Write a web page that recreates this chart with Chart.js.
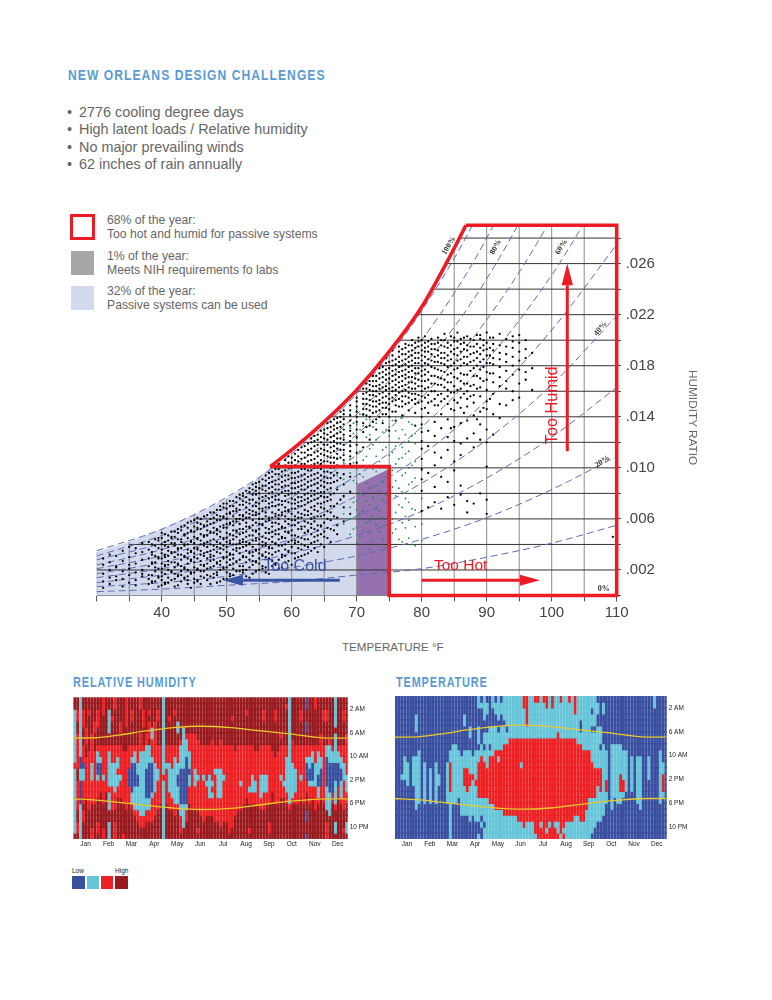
<!DOCTYPE html>
<html lang="en">
<head>
<meta charset="UTF-8" />
<title>New Orleans Design Challenges</title>
<script src="https://cdn.jsdelivr.net/npm/chart.js@4/dist/chart.umd.min.js"></script>
<style>
  html, body { margin: 0; background: #fff; }
  body { position: relative; width: 772px; height: 1000px; overflow: hidden; font-family: "Liberation Sans", sans-serif; color: #666; }
  .t { position: absolute; white-space: nowrap; }
  .head { font-weight: bold; color: #5b9bd5; transform: scaleX(.78); transform-origin: left center; }
  .box { position: absolute; }
  .wrap { position: absolute; }
</style>
</head>
<body>
<div class="t head" style="left:68px;top:66px;font-size:15.5px;letter-spacing:1.35px">NEW ORLEANS DESIGN CHALLENGES</div>
<div class="t" style="left:67px;top:104px;font-size:14.4px">•</div>
<div class="t" style="left:67px;top:121px;font-size:14.4px">•</div>
<div class="t" style="left:67px;top:139px;font-size:14.4px">•</div>
<div class="t" style="left:67px;top:156px;font-size:14.4px">•</div>
<div class="t" style="left:79px;top:104px;font-size:14.4px">2776 cooling degree days</div>
<div class="t" style="left:79px;top:121px;font-size:14.4px">High latent loads / Relative humidity</div>
<div class="t" style="left:79px;top:139px;font-size:14.4px">No major prevailing winds</div>
<div class="t" style="left:79px;top:156px;font-size:14.4px">62 inches of rain annually</div>

<div class="box" style="left:70px;top:214px;width:19px;height:20px;border:3.5px solid #ed1c24"></div>
<div class="box" style="left:71px;top:251px;width:23px;height:24px;background:#a7a7a7"></div>
<div class="box" style="left:71px;top:286px;width:23px;height:24px;background:#d3d9ec"></div>
<div class="t" style="left:107px;top:214px;font-size:12.2px;line-height:13.5px">68% of the year:<br>Too hot and humid for passive systems</div>
<div class="t" style="left:107px;top:250px;font-size:12.2px;line-height:13.5px">1% of the year:<br>Meets NIH requirements fo labs</div>
<div class="t" style="left:107px;top:285px;font-size:12.2px;line-height:13.5px">32% of the year:<br>Passive systems can be used</div>

<div class="wrap" style="left:90px;top:215px;width:637px;height:421px"><canvas id="psychro"></canvas></div>
<div class="t" style="left:342px;top:640px;font-size:11.6px">TEMPERATURE °F</div>
<div class="t" style="left:686px;top:370px;font-size:11.8px;writing-mode:vertical-rl">HUMIDITY RATIO</div>

<div class="t head" style="left:73px;top:674px;font-size:14px;letter-spacing:1.1px">RELATIVE HUMIDITY</div>
<div class="t head" style="left:396px;top:674px;font-size:14px;letter-spacing:1.1px">TEMPERATURE</div>
<div class="wrap" style="left:70px;top:694px;width:310px;height:162px"><canvas id="rhMap"></canvas></div>
<div class="wrap" style="left:392px;top:694px;width:307px;height:162px"><canvas id="tempMap"></canvas></div>

<div class="t" style="left:72px;top:867px;font-size:6.5px;color:#222">Low</div>
<div class="t" style="left:115px;top:867px;font-size:6.5px;color:#222">High</div>
<div class="box" style="left:72px;top:876px;width:13px;height:13px;background:#3a4f9f"></div>
<div class="box" style="left:87px;top:876px;width:12px;height:13px;background:#66c5d8"></div>
<div class="box" style="left:101px;top:876px;width:12px;height:13px;background:#ed2024"></div>
<div class="box" style="left:115px;top:876px;width:13px;height:13px;background:#9a1b1f"></div>

<script>
// psychrometric axes
const tempTicks = [30,35,40,45,50,55,60,65,70,75,80,85,90,95,100,105,110];
const tempLabels = [40,50,60,70,80,90,100,110];
const humidTicks = [0,.002,.004,.006,.008,.010,.012,.014,.016,.018,.020,.022,.024,.026,.028];
const humidLabels = [".002",".006",".010",".014",".018",".022",".026"];

// saturation curve
const satTemps = [30,35,40,45,50,55,56.7,60,65,70,75,80,85,86.8];
const satHumid = [.0034,.0042,.0052,.0063,.0076,.0092,.0101,.0114,.0136,.0161,.0191,.0226,.0272,.029];
// where each grid line meets the curve
const gridTopHumid = [.0034,.0042,.0052,.0063,.0076,.0092,.0114,.0136,.0161,.0191,.0226,.0272,.029,.029,.029,.029,.029];
const gridLeftTemp = [30,30,35,45,53,56.7,61,65.9,69.9,73.3,76.2,79,81.3,83.7,85.9];

// relative humidity curves
const rhTemps = [30,40,50,60,70,80,90,100,110];
const rh10 = [.0003,.0005,.0008,.0011,.0016,.0021,.0030,.0041,.0055];
const rh20 = [.0007,.0010,.0015,.0022,.0031,.0044,.0061,.0083,.0109];
const rh30 = [.0010,.0016,.0023,.0033,.0047,.0066,.0092,.0124,.0163];
const rh40 = [.0014,.0021,.0031,.0044,.0062,.0088,.0122,.0165,.0219];
const rh50 = [.0017,.0026,.0038,.0055,.0078,.0110,.0153,.0208,.0275];
const rh60 = [.0021,.0031,.0046,.0066,.0094,.0132,.0184,.0251,.0335];
const rh70 = [.0024,.0036,.0054,.0077,.0110,.0155,.0216,.0296,.0400];
const rh80 = [.0028,.0041,.0061,.0088,.0126,.0178,.0248,.0343,.0470];
const rh90 = [.0031,.0047,.0069,.0100,.0142,.0200,.0280,.0390,.0530];
const rh100 = [.0035,.0052,.0077,.0111,.0158,.0223,.0312,.0432,.0594];

// hourly readings, temperature in F and humidity ratio in thousandths
const blackTemps = [31,32,33,34,35,36,37,38,39,40,41,42,43,44,45,46,47,48,49,50,51,52,53,54,55,56,57,58,59,60,61,62,63,64,65,66,67,68,69,70,71,72,73,74,75,76,77,78,79,80,81,82,83,84,85,86,87,88,89,90,91,92,93,94,95,96,97,109.4];
const blackHumid = [
  [.6,1.1,1.7,2.4,2.9],
  [.9,1.4,2,2.6,3.2],
  [1.2,1.5,2.2,2.3,3.1],
  [.7,1.3,1.9,2.7,3.5],
  [1,1.6,2.1,2.4,3,3.8],
  [.8,1.2,1.8,2.5,3.3,3.7],
  [1.5,1.7,2,2.8,3.4,4.1],
  [.9,1.3,1.6,2.3,2.9,3.6,4.2],
  [1.1,1.9,2.2,2.6,3.1,3.9,4.4],
  [.8,1.2,1.5,1.8,2.1,2.5,2.9,3.3,3.6,4,4.5,4.9],
  [1,1.4,2,2.4,2.7,3.1,3.5,3.8,4.3,4.7],
  [.7,1.3,1.7,2.2,2.6,3,3.4,3.9,4.1,4.6,5],
  [1.1,1.6,1.9,2.3,2.8,3.2,3.7,4.2,4.4,5.1,5.4],
  [.9,1.2,1.5,2,2.5,2.9,3.3,3.6,4,4.5,4.9,5.3,5.7],
  [1,1.3,1.8,2.2,2.6,3,3.3,3.7,4.1,4.6,5,5.4,5.9],
  [.9,1.5,1.9,2.4,2.7,3.2,3.5,4,4.3,4.8,5.2,5.6,6],
  [1.2,1.6,2.1,2.5,2.9,3.4,3.8,4.2,4.7,5.1,5.5,5.8,6.3],
  [1.4,1.7,2.3,2.8,3.1,3.6,3.9,4.4,4.9,5.3,5.7,6.1,6.5],
  [1.1,2,2.4,2.7,3.3,3.7,4.1,4.6,5,5.4,5.9,6.2,6.7,7],
  [1.3,1.8,2.2,2.6,3,3.4,3.8,4.2,4.5,4.9,5.3,5.6,6,6.4,6.8,7.2],
  [1.6,2.1,2.5,2.9,3.2,3.6,4,4.4,4.7,5.1,5.5,5.8,6.2,6.6,7,7.4],
  [1.2,1.9,2.3,2.8,3.3,3.7,4.1,4.3,4.8,5.2,5.6,6,6.3,6.7,7.1,7.6,7.9],
  [1.5,2,2.6,3,3.5,3.9,4.2,4.6,5,5.4,5.7,6.1,6.5,6.9,7.3,7.7,8.2],
  [1.7,2.4,2.7,3.1,3.4,3.8,4.3,4.7,5.1,5.5,5.9,6.3,6.6,7,7.5,7.9,8.3,8.7],
  [2,2.5,2.9,3.3,3.6,4,4.4,4.8,5.2,5.6,6,6.4,6.8,7.2,7.6,8,8.4,8.9],
  [1.8,2.2,3,3.4,3.9,4.1,4.5,4.9,5.3,5.8,6.2,6.5,6.9,7.4,7.8,8.2,8.6,9,9.4],
  [2.3,2.7,3.2,3.7,4.2,4.6,5,5.4,5.7,6.1,6.5,7,7.3,7.7,8.1,8.5,8.9,9.3,9.7],
  [2.1,2.8,3.5,3.9,4.4,4.8,5.2,5.6,6,6.3,6.7,7.1,7.5,7.9,8.3,8.7,9.1,9.5,9.9,10.3],
  [2.6,3.1,3.6,4,4.5,5,5.3,5.8,6.2,6.6,6.9,7.4,7.8,8.2,8.6,9,9.4,9.8,10.2,10.6],
  [2.4,3.3,3.8,4.3,4.7,5.1,5.5,5.9,6.4,6.8,7.2,7.6,8,8.4,8.8,9.2,9.6,10,10.4,10.8],
  [3,3.7,4.2,4.6,5.2,5.7,6.1,6.5,7,7.3,7.7,8.1,8.5,8.9,9.3,9.7,10.1,10.5,10.9,11.4],
  [3.2,3.9,4.4,4.9,5.4,5.8,6.3,6.7,7.1,7.5,7.9,8.3,8.7,9.1,9.5,9.9,10.3,10.8,11.2,11.7],
  [3.5,4.1,4.8,5.3,5.6,6,6.4,6.9,7.4,7.8,8.2,8.6,9,9.4,9.8,10.2,10.6,11,11.5,12,12.3],
  [3.4,4.3,4.7,5.1,5.5,6.2,6.6,7.2,7.6,8,8.4,8.8,9.2,9.6,10,10.4,10.9,11.3,11.8,12.2,12.6],
  [3.8,4.6,5,5.7,6.3,6.8,7.3,7.7,8.1,8.5,8.9,9.3,9.7,10.1,10.5,11,11.4,11.8,12.3,12.7,13],
  [4.2,5.2,5.9,6.5,7,7.5,7.9,8.4,8.8,9.2,9.6,10,10.4,10.8,11.2,11.6,12,12.4,12.8,13.2,13.6],
  [4.8,5.5,6.1,7.2,8.3,9,9.6,10.2,10.7,11.1,11.5,11.9,12.3,12.7,13.1,13.5,13.9],
  [5.8,6.9,7.8,8.7,9.5,10.1,10.6,11,11.4,11.8,12.2,12.6,13,13.4,13.8,14.2,14.5],
  [6.4,8.1,9.3,10.3,10.9,11.3,11.7,12.1,12.5,12.9,13.3,13.7,14.1,14.5,14.9],
  [10.4,11.2,11.8,12.4,13,13.6,14,14.4,14.8,15.2,15.5],
  [11.6,12.8,13.5,14.2,14.6,15,15.4,15.8,16.2],
  [12.2,13.3,14,14.5,14.9,15.3,15.7,16.1,16.5,16.8],
  [13,13.8,14.4,14.8,15.2,15.6,16,16.4,16.8,17.2],
  [13.5,14.2,14.7,15.1,15.5,15.9,16.3,16.7,17.1,17.5,17.9],
  [12.9,14,14.6,15,15.4,15.8,16.2,16.6,17,17.4,17.8,18.3],
  [13.7,14.4,14.9,15.3,15.7,16.1,16.5,16.9,17.3,17.7,18.1,18.5],
  [14.1,14.8,15.2,15.6,16,16.4,16.8,17.2,17.6,18,18.4,18.9,19.3],
  [14.5,15.1,15.5,15.9,16.3,16.7,17.1,17.5,17.9,18.3,18.7,19.1,19.6],
  [13.3,14.3,15,15.4,15.8,16.2,16.6,17,17.4,17.8,18.2,18.6,19,19.4,19.8],
  [6.6,8.2,9.1,9.9,10.7,11.5,12.1,12.8,13.4,14,14.6,15.2,15.6,16,16.4,16.8,17.2,17.6,18,18.4,18.8,19.2,19.6,20],
  [6.9,9.6,11.7,12.9,14.3,15.1,15.7,16.3,16.9,17.5,18.1,18.5,19.1,19.5,19.9],
  [7.3,8.5,10.2,11.2,12.5,13.6,14.9,15.4,16,16.6,17.2,17.8,18.3,18.7,19.3,19.7],
  [6.8,9.3,10.8,13.1,14.2,15.2,15.8,16.5,17,17.6,18.2,18.6,19,19.6,20],
  [7.7,8.9,11.4,12.4,13.8,15,15.6,16.1,16.7,17.3,17.9,18.4,18.8,19.4,19.8],
  [7.1,9.8,10.5,12.1,13.2,14.5,15.3,15.9,16.4,17.1,17.7,18.2,18.9,19.3,19.9,20.2],
  [7.9,8.6,11,11.9,13.5,14.7,15.5,16.2,16.8,17.4,18,18.5,19.1,19.7,20.1],
  [6.5,7.4,12.3,13.7,14.8,15.4,16,16.6,17.3,18.1,18.7,19.2,19.6,20.3],
  [7.2,11.6,12.7,14.1,15.1,15.7,16.5,17.2,17.8,18.4,19,19.5,20],
  [8,12.2,13.4,14.4,15.6,16.3,17,17.7,18.3,18.9,19.4,20.1,20.4],
  [6.4,7.5,10.1,12,13,14.6,15.2,16.1,16.9,17.5,18.2,18.8,19.3,19.8,20.6],
  [12.6,14.2,15.8,16.7,17.4,18.1,18.6,19.2,19.7,20.2],
  [13.9,15,16.4,17.1,17.9,18.5,19,19.6,20.5],
  [14.9,16.2,16.8,17.6,18.3,18.9,19.5,20.1],
  [15.3,16,17.3,18,18.7,19.4,19.9,20.3],
  [15.5,16.6,17.7,18.4,19.1,19.8,20.4],
  [16.9,17.5,18.6,19.3,20],
  [16.1,17.8,19],
  [4.6]
];
// the half degree columns, these bunch up more than the whole degree ones
const blackHalfTemps = [38.5,39.5,40.5,41.5,42.5,43.5,44.5,45.5,46.5,47.5,48.5,49.5,50.5,51.5,52.5,53.5,54.5,55.5,56.5,57.5,58.5,59.5,60.5,61.5,62.5,63.5,64.5,65.5,66.5,67.5,71.5,72.5,73.5,74.5,75.5,76.5,77.5,78.5,79.5,80.5,81.5,82.5,83.5,84.5,85.5,86.5,87.5,88.5,89.5,90.5];
const blackHalfHumid = [
  [1,1.1,1.6,2.5,2.6,3.2,3.4,4],
  [.7,1.4,1.5,2.1,2.9,3,3.7,4.3,4.5],
  [.9,1,1.7,2.3,2.4,3,3.2,3.9,4.2,4.8],
  [1.2,1.8,1.9,2.6,3.3,3.4,4.1,4.5,4.6,5],
  [.8,1.5,1.6,2.4,2.5,3.2,3.6,3.7,4.4,4.9,5.2],
  [1.3,1.4,2.1,2.2,3,3.1,3.9,4,4.7,4.8,5.5],
  [.6,1.7,1.8,2.7,2.8,3.4,3.5,4.2,4.3,5,5.1,5.8],
  [1.1,1.2,2,2.1,2.9,3.6,3.7,4.4,4.5,5.2,5.3,5.7,6.1],
  [1.4,1.9,2.3,2.4,3.1,3.3,3.9,4.1,4.6,4.7,5.4,5.5,6.2],
  [.9,1.5,2.2,2.7,3,3.2,3.5,4,4.3,4.9,5,5.6,6,6.5],
  [1,1.6,1.8,2.5,2.6,3.4,3.8,4.2,4.8,5.1,5.2,5.9,6.3,6.7],
  [1.3,2.1,2.2,2.9,3,3.6,3.9,4.4,4.5,5.3,5.5,6.1,6.2,6.9,7.2],
  [1.5,1.7,2.4,2.8,3.2,3.3,4.1,4.3,4.8,5.6,5.7,6.4,6.5,7,7.4],
  [1.2,1.9,2.6,2.7,3.5,3.7,4,4.6,5,5.1,5.8,6,6.6,6.8,7.3,7.7],
  [1.8,2,2.3,3,3.1,3.8,4.2,4.4,4.9,5.2,5.9,6.2,6.3,7.1,7.4,7.8,8],
  [1.4,2.2,2.8,3.3,3.4,4,4.1,4.7,5.3,5.4,6.1,6.4,6.7,7.2,7.5,8.1,8.4],
  [1.9,2.6,2.7,3.5,3.6,4.3,4.5,5,5.1,5.7,6.3,6.5,7,7.3,7.9,8.2,8.5,8.8],
  [2.1,2.3,3.1,3.2,3.9,4.2,4.6,5.5,5.6,6,6.6,6.8,7.4,7.7,8.3,8.6,9.1],
  [1.7,2.9,3.3,3.7,3.8,4.4,4.9,5.2,5.9,6.1,6.9,7.2,7.6,8,8.4,8.8,9.2,9.6],
  [2.4,2.5,3.4,4,4.1,4.8,5.1,5.7,6.2,6.4,7,7.5,7.8,8.3,8.7,9,9.5,9.9],
  [2.2,3,3.2,3.9,4.5,4.6,5.3,5.4,6.3,6.5,7.1,7.4,8.1,8.5,8.9,9.3,9.7,10.1],
  [2.7,3.4,3.5,4.2,4.9,5,5.6,6,6.6,6.7,7.3,7.9,8.2,8.6,9.1,9.4,10,10.4,10.9],
  [2.9,3.3,4.1,4.3,4.7,5.5,5.9,6.2,6.8,7.2,7.5,8,8.4,8.8,9.2,9.6,10.2,10.6,11.1],
  [3.1,3.6,4,4.5,5.2,5.4,6.1,6.4,7,7.4,7.7,8.3,8.6,9,9.4,9.9,10.3,10.7,11.2,11.6],
  [3.3,3.8,4.4,5,5.1,5.7,6.3,6.6,7.3,7.6,8,8.5,8.9,9.3,9.8,10.1,10.5,11,11.4,11.9],
  [3.7,4.2,4.6,5.2,5.8,6.1,6.7,7,7.5,7.9,8.2,8.7,9.1,9.5,10,10.3,10.7,11.2,11.7,12.1,12.5],
  [4,4.8,5.4,5.5,6.2,6.9,7.2,7.8,8.1,8.6,9,9.4,9.9,10.3,10.6,11.1,11.5,12,12.4,12.9],
  [4.5,5.3,6,6.6,7.4,7.7,8.3,8.8,9.2,9.7,10.1,10.5,10.9,11.3,11.8,12.2,12.6,13.1,13.5],
  [5.1,6.2,7,8,8.9,9.4,10,10.4,10.8,11.3,11.7,12.1,12.5,13,13.3,13.8,14.3],
  [7.5,9.2,10.1,10.8,11.4,11.9,12.3,12.8,13.2,13.6,14,14.4,14.8],
  [13.2,14.1,14.6,15,15.4,15.9,16.2,16.6,17],
  [13.6,14.3,14.8,15.2,15.7,16,16.4,16.8,17.2,17.6],
  [14,14.5,15,15.3,15.8,16.2,16.5,17,17.4,17.8,18.1],
  [14.2,14.7,15.1,15.6,16.1,16.4,16.9,17.3,17.7,18.2,18.6],
  [14.4,15.2,15.5,16,16.3,16.8,17.2,17.6,18,18.4,18.8,19.2],
  [14.8,15.4,15.9,16.3,16.7,17.1,17.5,17.9,18.3,18.7,19.1,19.5],
  [15,15.6,16.1,16.5,17,17.3,17.7,18.1,18.5,18.9,19.4,19.7],
  [15.3,15.8,16.2,16.7,17.1,17.6,18,18.4,18.8,19.2,19.6,20],
  [15.1,15.7,16.4,16.9,17.4,17.8,18.2,18.6,19,19.5,19.9,20.2],
  [14.7,15.5,16.2,16.8,17.3,17.7,18.2,18.7,19.1,19.4,19.8,20.3],
  [15.2,16,16.6,17.2,17.9,18.4,18.9,19.3,19.7,20.1],
  [14.9,15.7,16.5,17.1,17.7,18.3,18.8,19.2,19.8,20.2],
  [15.4,16.3,16.9,17.5,18.1,18.6,19,19.5,20,20.5],
  [13.1,14.6,15.9,16.7,17.4,18,18.5,19.1,19.6,20.3],
  [15.1,16.1,17,17.8,18.4,18.8,19.4,19.9,20.6],
  [14.3,15.8,16.6,17.3,18.2,18.7,19.3,19.8,20.2],
  [15.6,16.4,17.6,18.3,18.9,19.5,20.1],
  [13.8,16.2,17.2,18,18.6,19.1,19.7,20.4],
  [14.7,16.8,17.9,18.5,19.2,19.6,20],
  [15.4,17.4,18.2,18.8,19.4,20.2]
];
const greenTemps = [67,68,69,70,71,72,73,74,75,76,77,78,79,80,69.5,70.5,71.5,72.5,73.5,74.5,75.5,76.5,77.5,78.5];
const greenHumid = [
  [7.2,8.5,9.4,10.8,11.9,12.7,13.6],
  [5.6,6.4,7.7,9.1,10.4,11.2,12.4,13.9],
  [4.8,6,6.9,8.2,9.6,10.7,11.8,13.1,14.2],
  [4.1,5.3,6.2,6.7,7.4,8.8,9.9,11.1,12.3,13.4,14.6],
  [5.1,6.6,7.9,9.3,10.6,12,13.3,14.1],
  [3.6,4.9,5.8,7.1,8.4,10.2,11.5,12.6,13.8],
  [5.5,6.8,8.6,9.7,10.9,12.2,13.5,14.4],
  [4.4,6.1,7.5,8.9,10.1,11.4,12.8,13.7],
  [4.7,6.3,7,8.3,9.5,11,12.5,13.2,14.5],
  [5.2,6.5,7.8,9,10.3,11.7,12.9,14],
  [4.2,5.7,6.9,8.1,9.4,10.8,11.6,13,13.9],
  [4.5,5.9,7.3,8.7,10,11.3,12.1,13.6],
  [3.9,5.4,6.7,8,9.2,10.5,11.9,12.7],
  [4.3,5.6,7.6,9.8,11.5,13.1],
  [5.2,7.3,9,10.4,12.7,13.5],
  [4.6,6.4,8,9.5,11.3,13,14.2],
  [5.7,7.4,8.8,10.9,12.4,13.8],
  [4.3,6.2,7.7,9.9,11.8,13.2],
  [5,6.6,8.2,10.5,12,14],
  [3.8,5.5,7.9,9.3,11.6,13],
  [4.9,6,8.5,9.8,11.2,13.7],
  [4.4,7.1,8.4,10.7,12.3],
  [5.3,6.2,7.6,9.6,11.1,12.6],
  [4,6.8,8.9,10.2,12.5,13.4]
];

// heat maps: one string per week slice, midnight to 11 PM
// 0 dark blue, 1 light blue, 2 red, 3 dark red
const monthLabels = ["Jan","Feb","Mar","Apr","May","Jun","Jul","Aug","Sep","Oct","Nov","Dec"];
const hourTicks = [2,6,10,14,18,22];
const hourLabels = ["2 AM","6 AM","10 AM","2 PM","6 PM","10 PM"];
const heatColors = ["#3a4f9f","#66c5d8","#ed2024","#9a1b1f"];
const rhSlices = [
"33111111 11121111 11111113","33223322 22223322 22233223","11111111 11001100 00111111","33222333 22201122 22322333",
"33333222 33222222 23333333","33233333 32222222 22233333","33333322 22211122 22333322","33332233 32222222 22333333",
"33222333 21100122 23333223","33333333 22100222 33333333","22233333 22222122 22333322","33333333 22222222 33333333",
"33111133 21111112 11133111","33323333 22211112 22233333","22333333 22211111 22233222","33333333 22112112 23333333",
"33332233 22222122 23333333","33333333 32222222 22333332","22222333 32222222 22233333","33333333 22220002 22333333",
"33223333 22100000 11233333","33333333 21100001 11123333","33333333 22211001 11122333","22333322 21111111 11112233",
"33222333 21111111 11112233","33333322 11110000 01122333","33232223 11100000 01122333","33333112 22100000 12222333",
"33332222 22211111 22223333","33223333 22221122 22233333","33333333 22222222 22333333","11111111 11111211 11111111",
"33333333 22212222 22333333","33323333 22211111 22233333","33333333 22221111 12233333","33233333 22111111 11223333",
"33331133 22211001 11233333","33333332 11110000 00112223","33333111 11110000 00111133","33333321 11000000 00122333",
"33333322 21110112 22333333","33333322 22222222 22233333","33333322 22221112 22233333","33333332 22222122 22233323",
"33333333 22222222 22223333","33333333 22222122 22222333","33333333 22222212 22223333","33333333 22222111 12223333",
"33333332 22222212 12223333","33333333 22221222 22222333","33333333 22221111 12222333","33333332 22221111 12222233",
"33333333 22222122 22222333","33333333 22222222 22222333","33333333 22222222 22222223","33323333 22222222 22222233",
"33333333 32222222 22223333","33333333 22222222 22233333","33333333 22222212 22233333","33333333 22222222 22333333",
"33233333 22222222 23333333","33333333 22222221 22333323","33333333 22222111 22333333","33333333 32222211 22333333",
"33333333 32222222 22333333","33333333 22222111 12233333","33223333 22222111 22233333","33333333 22222111 22333333",
"33333333 22222222 22333223","33333333 32222222 33333333","33223333 33222222 22333333","33333333 32222222 22333333",
"33333323 22222122 23333333","33333333 22222212 23333333","32333333 22111111 22333333","11111111 11111111 11233333",
"33333332 22211111 12333333","33333333 22221111 22333333","33333333 22222222 22333333","33223333 22222122 23333333",
"33333333 22222222 22333333","00330033 22100022 33300330","33333333 22110012 22333333","33333333 21100012 23333333",
"22333333 22211112 22233333","33333333 21111001 12333333","33333322 22110002 23333333","33223333 22222222 22333333",
"33223333 11000001 11133222","33333332 11100000 11113333","33333333 21100000 22333333","11111311 11100011 11233113",
"33333333 21100002 23333333","33333333 22110011 12333333","33223333 22211122 22233323","33333322 22222111 22333113"
];
const tempSlices = [
"00000000 00000000 00000000","00000000 00000000 00000000","00000000 00000100 00000000","00000000 00111100 00000000",
"00000000 00011110 00000000","00000000 00000000 00000000","00000000 00111110 00000000","00011100 00111111 11100000",
"00000000 01111111 11000000","00000000 00000000 00000000","00000000 00011111 11000000","00000000 00000000 00000000",
"00000000 00001111 11000000","00000000 00000000 00000000","00000000 00011111 11000000","00000000 00000110 00000000",
"00000000 00000000 00000000","00000000 00000000 00000000","00000000 00011111 11000000","00000000 01122222 11111111",
"00000000 11111111 11000000","00000000 11111111 11000000","00000000 01111111 10000000","00000000 00111111 11110000",
"00011000 01112221 11110000","00000000 01112222 11110000","00000110 01111221 11111000","00000000 00111211 11110000",
"00000000 01111121 11111000","11000111 01122222 21111001","01000000 11222222 21110100","11110011 01122222 21111011",
"01100011 11112222 21111111","00000111 01222222 22111111","11000111 11222222 22111111","01100111 12222222 22211111",
"11110011 12122222 22211111","01100111 12222222 22211111","11110111 22222222 22221111","11111011 22222222 22221111",
"11111112 22222222 22221111","11111112 22222222 22221111","11111112 22222222 22221111","11111112 22222222 22222111",
"11111112 22212222 22222111","22111112 22222222 22222211","22222112 22222222 22222111","11111112 22222222 22222111",
"11111112 22222222 22222111","21111112 22222222 22222221","21111112 22222222 22222222","11111112 22222222 22222122",
"21111112 22222222 22222222","22111112 22222222 22222212","11111112 22222222 22222122","22111112 22222222 22222222",
"11111112 22222222 22222122","11111122 22222222 22222112","21111112 22222222 22222221","11111112 22222222 22222212",
"11111112 22222222 22222111","21111112 22222222 22222111","11111112 22222222 22222111","22211112 22222222 22221111",
"11111111 22222222 22221111","11110011 22222222 22222111","11111111 12222222 22222111","11111111 12222222 22211111",
"11111111 12222222 21111111","11011011 11122222 21111110","11111011 11112222 21111100","01100111 11112221 11111000",
"00000111 01112222 11111000","01100000 11111111 11110000","00000000 01111122 11000000","00000000 00000000 00000000",
"00000000 11111111 11100000","00000000 11111111 10000000","00000000 11111111 11000000","00000000 11111222 11000000",
"00000000 01111122 10000000","00000000 01111111 00000000","00000000 00000000 00000000","00000000 00111111 00000000",
"00000000 00000000 00000000","00000000 00111111 11000000","00000000 00111111 11100000","00000000 00000000 00000000",
"00000000 00000000 00000000","00000000 00111100 00000000","00000000 00000000 00000000","11000000 00000000 00000000",
"00000000 00000000 00000000","00000000 01111111 11000000","00000000 00011222 10000000","00000000 00000000 00000000"
];
// sunrise and sunset, month position against hour
const sunMonths = [0,1,2,3.2,4.5,5.5,6.9,8.2,9.5,11.1,12];
const sunriseHours = [6.9,6.85,6.4,5.7,5.1,4.9,5.14,5.7,6.2,6.9,6.9];
const sunsetHours = [17.2,17.4,17.8,18.3,18.8,19,18.8,18.2,17.6,17.2,17.2];

const RED = "#ed1c24", BLUE = "#3a53a4";

function pairs(xs, ys) { return xs.map((x, i) => ({ x: x, y: ys[i] })); }
function shape(color, data) {
  return { data: data, showLine: true, fill: "shape", backgroundColor: color, borderWidth: 0, pointRadius: 0 };
}
function stroke(color, width, data) {
  return { data: data, showLine: true, borderColor: color, borderWidth: width, pointRadius: 0, fill: false };
}
function dots(color, radius, temps, humid) {
  const data = [];
  temps.forEach((t, i) => humid[i].forEach(w => data.push({ x: t, y: w / 1000 })));
  return { data: data, pointRadius: radius, pointBorderWidth: 0, pointBackgroundColor: color, showLine: false };
}
// drop the label overhang so the plot area lands where the sizes say
function noOverhang(s) { s.paddingLeft = 0; s.paddingRight = 0; s.paddingTop = 0; s.paddingBottom = 0; }

const satPoints = pairs(satTemps, satHumid);
const gap = { x: NaN, y: NaN };
const vGrid = [], hGrid = [];
tempTicks.forEach((t, i) => vGrid.push({ x: t, y: 0 }, { x: t, y: gridTopHumid[i] }, gap));
humidTicks.forEach((w, i) => hGrid.push({ x: gridLeftTemp[i], y: w }, { x: 110, y: w }, gap));

const rhCurves = [rh10, rh20, rh30, rh40, rh50, rh60, rh70, rh80, rh90, rh100].map(vals => ({
  data: pairs(rhTemps, vals), showLine: true, borderColor: "#5d6db4", borderWidth: 1,
  borderDash: [7, 4], pointRadius: 0, cubicInterpolationMode: "monotone", fill: false
}));

const redCurve = stroke(RED, 3.6, satPoints.slice(6));
redCurve.clip = false;
redCurve.cubicInterpolationMode = "monotone";
const redLine = stroke(RED, 3.6, pairs([86.8, 110, 110, 75, 75, 56.7], [.029, .029, 0, 0, .0101, .0101]));
redLine.clip = false;
redLine.borderJoinStyle = "miter";

// text that sits inside the plot
const plotNotes = [
  { text: "Too Humid", x: 100.2, y: .0149, angle: -90, font: "16.3px 'Liberation Sans'", color: RED },
  { text: "Too Hot", x: 86, y: .0023, angle: 0, font: "15.5px 'Liberation Sans'", color: RED },
  { text: "Too Cold", x: 60.5, y: .0023, angle: 0, font: "16px 'Liberation Sans'", color: BLUE },
  { text: "100%", x: 84.2, y: .0274, angle: -58, font: "bold 8px 'Liberation Serif'", color: "#333" },
  { text: "80%", x: 91.4, y: .0273, angle: -62, font: "bold 8px 'Liberation Serif'", color: "#333" },
  { text: "60%", x: 101.5, y: .0273, angle: -58, font: "bold 8px 'Liberation Serif'", color: "#333" },
  { text: "40%", x: 107.5, y: .0209, angle: -50, font: "bold 8px 'Liberation Serif'", color: "#333" },
  { text: "20%", x: 107.8, y: .0105, angle: -35, font: "bold 8px 'Liberation Serif'", color: "#333" },
  { text: "0%", x: 108, y: .0005, angle: 0, font: "bold 8px 'Liberation Serif'", color: "#333" }
];
const notesPlugin = {
  id: "notes",
  afterDatasetsDraw(chart) {
    const ctx = chart.ctx;
    plotNotes.forEach(n => {
      ctx.save();
      ctx.translate(chart.scales.x.getPixelForValue(n.x), chart.scales.y.getPixelForValue(n.y));
      ctx.rotate(n.angle * Math.PI / 180);
      ctx.font = n.font;
      ctx.fillStyle = n.color;
      ctx.textAlign = "center";
      ctx.textBaseline = "middle";
      ctx.fillText(n.text, 0, 0);
      ctx.restore();
    });
  }
};

new Chart(document.getElementById("psychro"), {
  type: "scatter",
  plugins: [notesPlugin],
  data: {
    // first dataset is painted last
    datasets: [
      redCurve,
      redLine,
      shape(RED, pairs([102.4, 101.53, 103.27], [.026, .0243, .0243])),
      stroke(RED, 3, pairs([102.4, 102.4], [.0113, .0243])),
      shape(RED, pairs([98.2, 95.1, 95.1], [.0012, .00163, .00077])),
      stroke(RED, 3, pairs([80, 95.1], [.0012, .0012])),
      shape(BLUE, pairs([49.4, 52.5, 52.5], [.0012, .00163, .00077])),
      stroke(BLUE, 3, pairs([67.4, 52.5], [.0012, .0012])),
      dots("#000", 1.15, blackTemps, blackHumid),
      dots("#000", 1.15, blackHalfTemps, blackHalfHumid),
      dots("#1f8a4c", 0.9, greenTemps, greenHumid),
      ...rhCurves,
      stroke("#333", 1, hGrid),
      stroke("#8a8a8a", 1, vGrid),
      shape("#9671b0", pairs([70, 75, 75, 70], [.0087, .0099, 0, 0])),
      shape("#d3d9ec", satPoints.slice(0, 7).concat(pairs([75, 75, 30], [.0101, 0, 0])))
    ]
  },
  options: {
    responsive: true,
    maintainAspectRatio: false,
    animation: false,
    layout: { padding: { left: 6.7, top: 10.3, right: 0, bottom: 0 } },
    plugins: { legend: { display: false }, tooltip: { enabled: false } },
    scales: {
      x: {
        type: "linear", min: 30, max: 110,
        afterFit(s) { s.height = 40.5; noOverhang(s); },
        afterBuildTicks(s) { s.ticks = tempTicks.map(v => ({ value: v })); },
        border: { display: false },
        grid: { drawOnChartArea: false, tickLength: 6, tickColor: "#555" },
        ticks: {
          autoSkip: false, maxRotation: 0, padding: 2,
          color: "#444", font: { family: "'Liberation Sans'", size: 15 },
          callback: v => tempLabels.includes(v) ? String(v) : ""
        }
      },
      y: {
        type: "linear", position: "right", min: 0, max: .029,
        afterFit(s) { s.width = 110.3; noOverhang(s); },
        afterBuildTicks(s) { s.ticks = humidTicks.map(v => ({ value: v })); },
        border: { display: false },
        grid: { drawOnChartArea: false, tickLength: 4, tickColor: "#333" },
        ticks: {
          autoSkip: false, padding: 5,
          color: "#444", font: { family: "'Liberation Sans'", size: 15 },
          callback: v => { const s = v.toFixed(3).slice(1); return humidLabels.includes(s) ? s : ""; }
        }
      }
    }
  }
});

function heatMap(id, slices, paddingLeft, paddingTop, axisWidth) {
  const cells = slices.map(s => s.replace(/ /g, ""));
  const labels = cells.map((_, i) => i % 8 === 4 ? monthLabels[(i - 4) / 8] : "");
  const sunLine = hours => ({
    type: "line", data: pairs(sunMonths, hours), xAxisID: "xSun", yAxisID: "ySun",
    borderColor: "#e9c92b", borderWidth: 1.3, pointRadius: 0, cubicInterpolationMode: "monotone", order: 0
  });
  const datasets = [sunLine(sunriseHours), sunLine(sunsetHours)];
  for (let h = 0; h < 24; h++) {
    datasets.push({
      type: "bar", order: 1,
      data: cells.map(() => 1),
      backgroundColor: cells.map(c => heatColors[+c[h]]),
      barPercentage: 1, categoryPercentage: 1, borderWidth: 0, inflateAmount: 0.7
    });
  }
  new Chart(document.getElementById(id), {
    type: "bar",
    data: { labels: labels, datasets: datasets },
    options: {
      responsive: true,
      maintainAspectRatio: false,
      animation: false,
      layout: { padding: { left: paddingLeft, top: paddingTop, right: 0, bottom: 0 } },
      plugins: { legend: { display: false }, tooltip: { enabled: false } },
      scales: {
        x: {
          stacked: true,
          afterFit(s) { s.height = 17; noOverhang(s); },
          border: { display: false },
          grid: { display: false, drawTicks: false, tickLength: 0 },
          ticks: { autoSkip: false, maxRotation: 0, minRotation: 0, padding: 1, color: "#222", font: { family: "'Liberation Sans'", size: 6.5 } }
        },
        y: {
          stacked: true, position: "right", min: 0, max: 24, reverse: true,
          afterFit(s) { s.width = axisWidth; noOverhang(s); },
          afterBuildTicks(s) { s.ticks = hourTicks.map(v => ({ value: v })); },
          border: { display: false },
          grid: { display: false, drawTicks: false, tickLength: 0 },
          ticks: {
            autoSkip: false, padding: 2, color: "#222", font: { family: "'Liberation Sans'", size: 6.5 },
            callback: v => hourLabels[hourTicks.indexOf(v)]
          }
        },
        xSun: { type: "linear", min: 0, max: 12, offset: false, display: false },
        ySun: { type: "linear", min: 0, max: 24, reverse: true, display: false }
      }
    }
  });
}
heatMap("rhMap", rhSlices, 2.7, 3.3, 32.3);
heatMap("tempMap", tempSlices, 2.3, 2, 32.3);
</script>
</body>
</html>
